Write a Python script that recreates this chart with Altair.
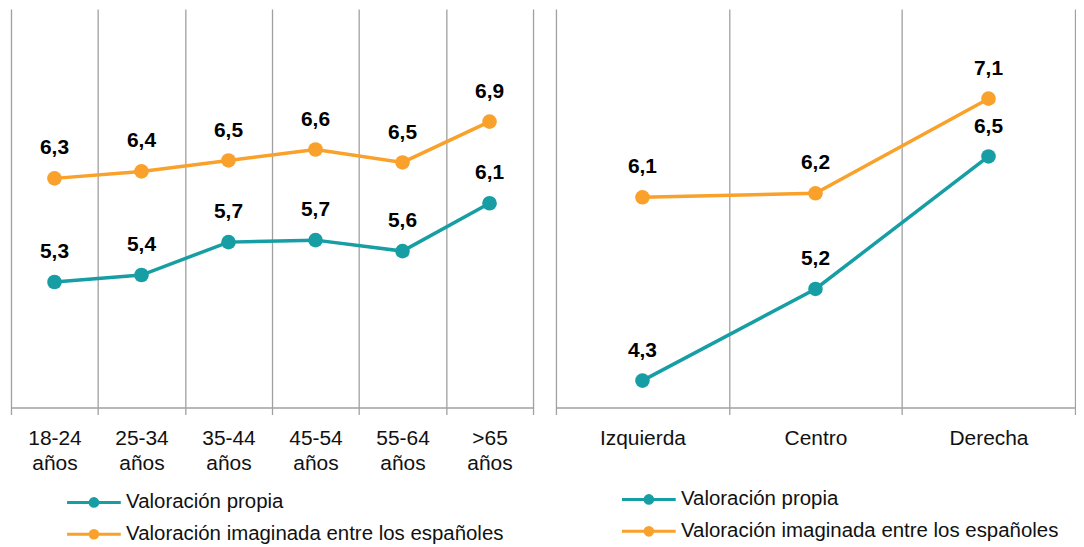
import altair as alt
import pandas as pd

FONT = "Liberation Sans"

series = ["Valoración propia", "Valoración imaginada entre los españoles"]
colors = ["#169EA4", "#F9A12A"]

age_cats = ["18-24 años", "25-34 años", "35-44 años", "45-54 años", "55-64 años", ">65 años"]
age_propia = [5.26, 5.33, 5.66, 5.68, 5.57, 6.05]
age_imag = [6.30, 6.37, 6.48, 6.59, 6.46, 6.87]
age_propia_lbl = ["5,3", "5,4", "5,7", "5,7", "5,6", "6,1"]
age_imag_lbl = ["6,3", "6,4", "6,5", "6,6", "6,5", "6,9"]

ideo_cats = ["Izquierda", "Centro", "Derecha"]
ideo_propia = [4.27, 5.19, 6.52]
ideo_imag = [6.11, 6.15, 7.10]
ideo_propia_lbl = ["4,3", "5,2", "6,5"]
ideo_imag_lbl = ["6,1", "6,2", "7,1"]

LEGEND_PATH = "M-4.9,0L4.9,0M0.7,0A0.7,0.7,0,1,1,-0.7,0A0.7,0.7,0,1,1,0.7,0Z"
GRID = "#A0A0A0"


def make_df(cats, propia, imag, lp, li):
    rows = []
    for c, v, l in zip(cats, propia, lp):
        rows.append({"cat": c, "serie": series[0], "val": v, "lbl": l})
    for c, v, l in zip(cats, imag, li):
        rows.append({"cat": c, "serie": series[1], "val": v, "lbl": l})
    return pd.DataFrame(rows)


def panel(df, cats, width, lx, ly):
    legend = alt.Legend(
        title=None, orient="none", legendX=lx, legendY=ly, direction="vertical",
        symbolType=LEGEND_PATH, symbolSize=121, symbolStrokeWidth=3,
        labelFont=FONT, labelFontSize=20.5, labelColor="#111111", labelLimit=600,
        labelOffset=22, rowPadding=11, padding=0,
    )
    x = alt.X(
        "cat:N", sort=cats, title=None,
        scale=alt.Scale(paddingInner=0, paddingOuter=0),
        axis=alt.Axis(
            grid=True, gridColor=GRID, gridWidth=1.3, tickBand="extent",
            domainColor=GRID, domainWidth=1.5, tickColor=GRID, tickWidth=1.3,
            tickSize=7, labelAngle=0, labelFont=FONT, labelFontSize=21,
            labelColor="#111111", labelPadding=13, labelLineHeight=25,
            labelExpr="split(datum.label, ' ')",
        ),
    )
    y = alt.Y("val:Q", scale=alt.Scale(domain=[4, 8], nice=False, zero=False), axis=None)
    cscale = alt.Scale(domain=series, range=colors)
    base = alt.Chart(df)
    line = base.mark_line(strokeWidth=3.5).encode(
        x=x, y=y, stroke=alt.Stroke("serie:N", scale=cscale, legend=legend)
    )
    pts = base.mark_point(filled=True, size=215, opacity=1).encode(
        x=x, y=y, fill=alt.Fill("serie:N", scale=cscale, legend=legend)
    )
    txt = base.mark_text(
        font=FONT, fontSize=21, fontWeight="bold", color="#000000", dy=-30
    ).encode(x=x, y=y, text="lbl:N")
    return alt.layer(line, pts, txt).properties(width=width, height=400)


left = panel(make_df(age_cats, age_propia, age_imag, age_propia_lbl, age_imag_lbl),
             age_cats, 524, 73, 485)
right = panel(make_df(ideo_cats, ideo_propia, ideo_imag, ideo_propia_lbl, ideo_imag_lbl),
              ideo_cats, 521, 83, 482)

chart = (
    alt.hconcat(left, right, spacing=21)
    .resolve_scale(stroke="independent", fill="independent")
    .resolve_legend(stroke="independent", fill="independent")
    .configure_view(stroke=None)
    .properties(padding={"left": 2, "top": 0, "right": 0, "bottom": 0})
)

chart.save("out.html", embed_options={"renderer": "svg", "actions": False})
